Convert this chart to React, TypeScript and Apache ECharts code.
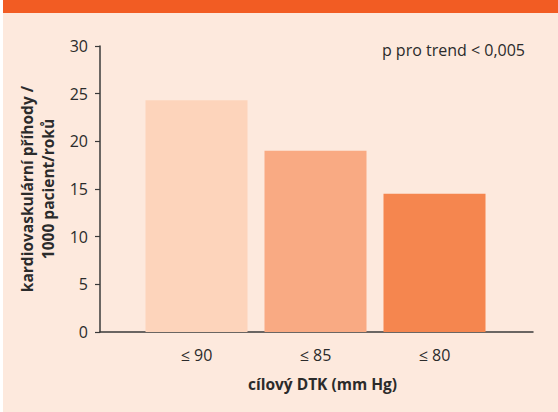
import React, { useEffect, useRef } from "react";
import * as echarts from "echarts";

const categories = ["≤ 90", "≤ 85", "≤ 80"];
const values = [24.3, 19.0, 14.5];
const barColors = ["#fdd4bb", "#f9aa83", "#f5864f"];
const yTicks = { min: 0, max: 30, interval: 5 };
const yAxisName = "kardiovaskulární příhody /\n1000 pacient/roků";
const xAxisName = "cílový DTK (mm Hg)";
const note = "p pro trend < 0,005";

const FONT = "'Open Sans', 'Noto Sans', sans-serif";

export default function App() {
  const ref = useRef<HTMLDivElement>(null);
  useEffect(() => {
    if (!ref.current) return;
    const chart = echarts.init(ref.current, undefined, { renderer: "svg" });
    chart.setOption({
      animation: false,
      backgroundColor: "#ffffff",
      textStyle: { fontFamily: FONT },
      graphic: [
        { type: "rect", left: 3, top: 0, shape: { width: 555, height: 412 }, style: { fill: "#fde9dd" }, z: -10 },
        { type: "rect", left: 3, top: 0, shape: { width: 555, height: 13 }, style: { fill: "#f25c23" }, z: -9 },
      ],
      title: {
        text: note,
        right: 28,
        top: 37,
        textStyle: { fontFamily: FONT, fontSize: 16, fontWeight: "normal", color: "#2b2b2b" },
      },
      grid: [
        { left: 137, right: 64, top: 46, bottom: 80, containLabel: false, outerBoundsMode: "none" },
        { left: 100, right: 25, top: 46, bottom: 80, containLabel: false, outerBoundsMode: "none" },
      ],
      xAxis: [
        {
          type: "category",
          gridIndex: 0,
          data: categories,
          axisLine: { show: false },
          axisTick: { show: false },
          axisLabel: { margin: 15, fontSize: 16, color: "#2b2b2b", fontFamily: FONT },
          name: xAxisName,
          nameLocation: "middle",
          nameGap: 44,
          nameTextStyle: { fontSize: 15.5, fontWeight: "bold", color: "#2b2b2b", fontFamily: FONT, padding: [0, 0, 0, 14] },
        },
        {
          type: "value",
          gridIndex: 1,
          min: 0,
          max: 1,
          axisLine: { show: true, lineStyle: { color: "#3a3a3a", width: 1.5 } },
          axisTick: { show: false },
          axisLabel: { show: false },
          splitLine: { show: false },
        },
      ],
      yAxis: [
        {
          type: "value",
          gridIndex: 0,
          min: yTicks.min,
          max: yTicks.max,
          interval: yTicks.interval,
          offset: 37,
          axisLine: { show: true, lineStyle: { color: "#3a3a3a", width: 1.5 } },
          axisTick: { show: true, length: 5, lineStyle: { color: "#3a3a3a", width: 1.2 } },
          axisLabel: { margin: 12, fontSize: 16, color: "#2b2b2b", fontFamily: FONT },
          splitLine: { show: false },
          name: yAxisName,
          nameLocation: "middle",
          nameGap: 42,
          nameTextStyle: { fontSize: 15.5, fontWeight: "bold", color: "#2b2b2b", fontFamily: FONT, lineHeight: 21 },
        },
        {
          type: "value",
          gridIndex: 1,
          show: false,
        },
      ],
      series: [
        {
          type: "bar",
          xAxisIndex: 0,
          yAxisIndex: 0,
          barWidth: 102,
          data: values.map((v, i) => ({ value: v, itemStyle: { color: barColors[i] } })),
        },
      ],
    });
    return () => chart.dispose();
  }, []);
  return <div ref={ref} style={{ position: "fixed", left: 0, top: 0, width: 558, height: 412 }} />;
}
